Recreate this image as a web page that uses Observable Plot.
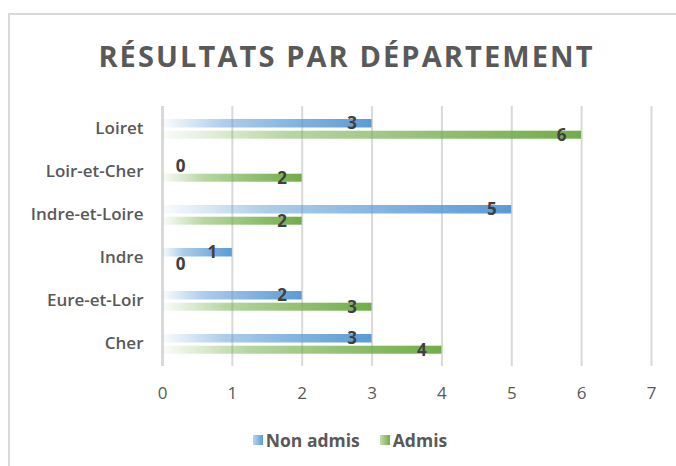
<!DOCTYPE html>
<html>
<head>
<meta charset="utf-8">
<script src="https://cdn.jsdelivr.net/npm/d3@7"></script>
<script src="https://cdn.jsdelivr.net/npm/@observablehq/plot@0.6"></script>
<style>
  html, body { margin: 0; padding: 0; background: #fff; }
  #wrap { position: relative; width: 676px; height: 466px; overflow: hidden; font-family: "Open Sans", sans-serif; }
  #frame { position: absolute; left: 8px; top: 13px; width: 720px; height: 520px; border: 2px solid #d9d9d9; box-sizing: border-box; }
  #title { position: absolute; left: 0; width: 693px; top: 41px; text-align: center; font-size: 29px; line-height: 29px; font-weight: 700; color: #595959; white-space: nowrap; letter-spacing: 2.1px; }
  #chart { position: absolute; left: 0; top: 96px; }
  #legend { position: absolute; left: 0; width: 700px; top: 428px; display: flex; justify-content: center; align-items: center; font-size: 17.5px; font-weight: 700; color: #595959; }
  .item { display: flex; align-items: center; margin: 0 10px; }
  .sw { width: 10px; height: 10px; margin-right: 3px; }
</style>
</head>
<body>
<div id="wrap">
  <div id="frame"></div>
  <div id="title">RÉSULTATS PAR DÉPARTEMENT</div>
  <div id="chart"></div>
  <div id="legend"></div>
</div>
<script>
const departements = ["Loiret", "Loir-et-Cher", "Indre-et-Loire", "Indre", "Eure-et-Loir", "Cher"];
const nonAdmis = [3, 0, 5, 1, 2, 3];
const admis = [6, 2, 2, 0, 3, 4];
const seriesNames = ["Non admis", "Admis"];
const seriesColors = ["#5b9bd5", "#70ad47"];
const xTicks = [0, 1, 2, 3, 4, 5, 6, 7];

const blueData = departements.map((d, i) => ({dept: d, value: nonAdmis[i]}));
const greenData = departements.map((d, i) => ({dept: d, value: admis[i]}));

const labelFont = {fontSize: 17, fontWeight: 700, fill: "#404040"};

function valueLabels(data, dy) {
  return [
    Plot.text(data, {x: "value", y: "dept", text: d => String(d.value), filter: d => d.value > 0, dx: -20, dy, ...labelFont}),
    Plot.text(data, {x: "value", y: "dept", text: d => String(d.value), filter: d => d.value === 0, dx: 18, dy, ...labelFont})
  ];
}

const svg = Plot.plot({
  width: 676,
  height: 310,
  marginTop: 10,
  marginBottom: 40,
  marginLeft: 162,
  marginRight: 25,
  style: {fontFamily: "Open Sans, sans-serif", background: "transparent", overflow: "visible"},
  x: {domain: [0, 7], ticks: xTicks, tickFormat: d => String(d), tickSize: 0, tickPadding: 20, label: null},
  y: {domain: departements, padding: 0, tickSize: 0, tickPadding: 19, label: null},
  marks: [
    Plot.gridX(xTicks.slice(1), {stroke: "#d9d9d9", strokeOpacity: 1, strokeWidth: 2}),
    Plot.ruleX([0], {stroke: "#d9d9d9", strokeWidth: 3}),
    Plot.barX(blueData, {x: "value", y: "dept", fill: "url(#gradBlue)", insetTop: 12, insetBottom: 22.5}),
    Plot.barX(greenData, {x: "value", y: "dept", fill: "url(#gradGreen)", insetTop: 23.7, insetBottom: 11.3}),
    ...valueLabels(blueData, -5),
    ...valueLabels(greenData, 7)
  ]
});

// gradient definitions (per-bar, left pale -> right full colour)
const defs = d3.select(svg).insert("defs", ":first-child");
[["gradBlue", seriesColors[0]], ["gradGreen", seriesColors[1]]].forEach(([id, c]) => {
  const g = defs.append("linearGradient").attr("id", id).attr("x1", 0).attr("x2", 1).attr("y1", 0).attr("y2", 0);
  g.append("stop").attr("offset", "0%").attr("stop-color", c).attr("stop-opacity", 0.03);
  g.append("stop").attr("offset", "30%").attr("stop-color", c).attr("stop-opacity", 0.5);
  g.append("stop").attr("offset", "70%").attr("stop-color", c).attr("stop-opacity", 0.8);
  g.append("stop").attr("offset", "100%").attr("stop-color", c).attr("stop-opacity", 1);
});

// axis text styling
d3.select(svg).selectAll("g[aria-label^='y-axis']").attr("font-size", 17).attr("font-weight", 600).attr("fill", "#595959");
d3.select(svg).selectAll("g[aria-label^='x-axis']").attr("font-size", 17).attr("fill", "#595959");

document.getElementById("chart").appendChild(svg);

// legend
const legend = document.getElementById("legend");
seriesNames.forEach((name, i) => {
  const item = document.createElement("div");
  item.className = "item";
  const sw = document.createElement("div");
  sw.className = "sw";
  sw.style.background = `linear-gradient(to right, ${seriesColors[i]}66, ${seriesColors[i]})`;
  const label = document.createElement("span");
  label.textContent = name;
  item.appendChild(sw);
  item.appendChild(label);
  legend.appendChild(item);
});
</script>
</body>
</html>
